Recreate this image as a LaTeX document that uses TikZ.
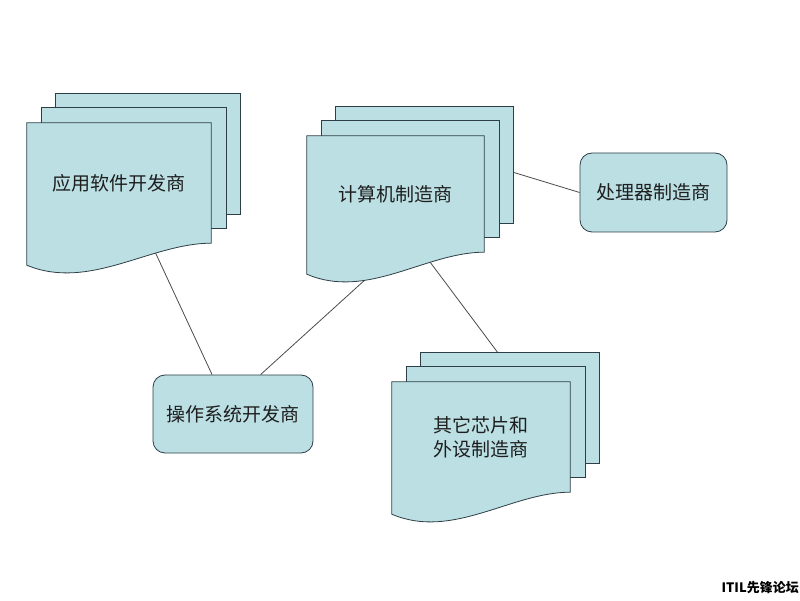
\documentclass[tikz,border=0pt]{standalone}
\usepackage{fontspec}
\newfontfamily\cjk{Noto Sans CJK SC}
\usetikzlibrary{calc}
\definecolor{pagecyan}{RGB}{187,223,227}
\definecolor{edgeslate}{RGB}{45,62,70}
\definecolor{linkgray}{RGB}{75,75,75}
\definecolor{inkdark}{RGB}{30,30,30}
\pgfdeclarelayer{links}
\pgfdeclarelayer{pages}
\pgfsetlayers{links,pages,main}
% stack of three pages behind a document node, front page with a wavy bottom
\newcommand{\docstack}[1]{%
  \begin{pgfonlayer}{pages}
    \draw[docpage] ([shift={(29pt,29pt)}]#1.south west) rectangle ([shift={(29pt,29pt)}]#1.north east);
    \draw[docpage] ([shift={(15pt,15pt)}]#1.south west) rectangle ([shift={(15pt,15pt)}]#1.north east);
    \draw[docpage] ([yshift=-22pt]#1.south west) -- (#1.north west) -- (#1.north east) -- (#1.south east)
      .. controls ($(#1.south west)!0.67!(#1.south east)$) and ($(#1.south west)!0.34!(#1.south east)+(0,-48pt)$) .. ([yshift=-22pt]#1.south west) -- cycle;
  \end{pgfonlayer}}

\begin{document}
\begin{tikzpicture}[x=1pt,y=1pt]
\tikzstyle{docpage}=[draw=edgeslate,fill=pagecyan,line width=0.8pt]
\tikzstyle{docnode}=[inner sep=0pt,align=center,text=inkdark,font={\cjk\fontsize{19pt}{24pt}\selectfont}]
\tikzstyle{vendorbox}=[draw=edgeslate,fill=pagecyan,line width=0.8pt,rounded corners=12pt,inner sep=0pt,align=center,text=inkdark,font={\cjk\fontsize{19pt}{24pt}\selectfont}]
\tikzstyle{link}=[draw=linkgray,line width=0.8pt]
\useasboundingbox (0,0) rectangle (800,600);

\node[docnode,minimum width=184pt,minimum height=120pt] (apps) at (119,417) {应用软件开发商};
\node[docnode,minimum width=177pt,minimum height=116pt] (pc) at (395.5,406) {计算机制造商};
\node[docnode,minimum width=178pt,minimum height=110pt] (chips) at (481,163) {其它芯片和\\外设制造商};
\node[vendorbox,minimum width=147pt,minimum height=79pt] (cpu) at (653.5,407.5) {处理器制造商};
\node[vendorbox,minimum width=160pt,minimum height=78pt] (os) at (233,186) {操作系统开发商};
\node[anchor=east,inner sep=0pt,text=black,font={\cjk\bfseries\fontsize{13pt}{13pt}\selectfont}] (mark) at (799,12) {ITIL先锋论坛};

\docstack{apps} \docstack{pc} \docstack{chips}

\begin{pgfonlayer}{links}
\draw[link] (apps.-62)--(os.118);
\draw[link] (pc.south)--(os.55);
\draw[link] (pc.-65)--(chips.55);
\draw[link] (pc.19)--(cpu.west);
\end{pgfonlayer}
\end{tikzpicture}
\end{document}
